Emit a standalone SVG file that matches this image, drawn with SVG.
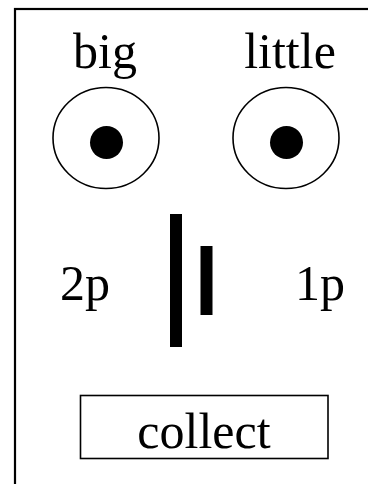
<svg xmlns="http://www.w3.org/2000/svg" width="368" height="484" viewBox="0 0 368 484">
  <style>
    .lbl { font-family: "Liberation Serif", "Times New Roman", serif; font-size: 50px; fill: #000; text-anchor: middle; }
    .ring { fill: #fff; stroke: #000; stroke-width: 1.6; }
    .dot { fill: #000; }
    .bar { fill: #000; }
  </style>
  <rect width="368" height="484" fill="#fff"/>
  <!-- panel frame, running off the right and bottom edges -->
  <rect id="frame" x="15" y="9" width="380" height="500" fill="none" stroke="#000" stroke-width="2.2"/>

  <g id="big">
    <text class="lbl" x="105" y="68">big</text>
    <ellipse class="ring" cx="106" cy="138" rx="53" ry="50.5"/>
    <circle class="dot" cx="106.5" cy="142.5" r="16.5"/>
  </g>

  <g id="little">
    <text class="lbl" x="290" y="68">little</text>
    <ellipse class="ring" cx="286" cy="138" rx="53" ry="50.5"/>
    <circle class="dot" cx="286.5" cy="142.5" r="16.5"/>
  </g>

  <g id="coins">
    <text class="lbl" x="85" y="300">2p</text>
    <rect class="bar" x="170" y="214" width="12" height="133"/>
    <rect class="bar" x="200.5" y="246" width="12" height="69"/>
    <text class="lbl" x="320" y="300">1p</text>
  </g>

  <g id="collect">
    <rect x="80.5" y="395.5" width="247.5" height="63" fill="#fff" stroke="#000" stroke-width="1.6"/>
    <text class="lbl" x="204" y="448">collect</text>
  </g>
</svg>
